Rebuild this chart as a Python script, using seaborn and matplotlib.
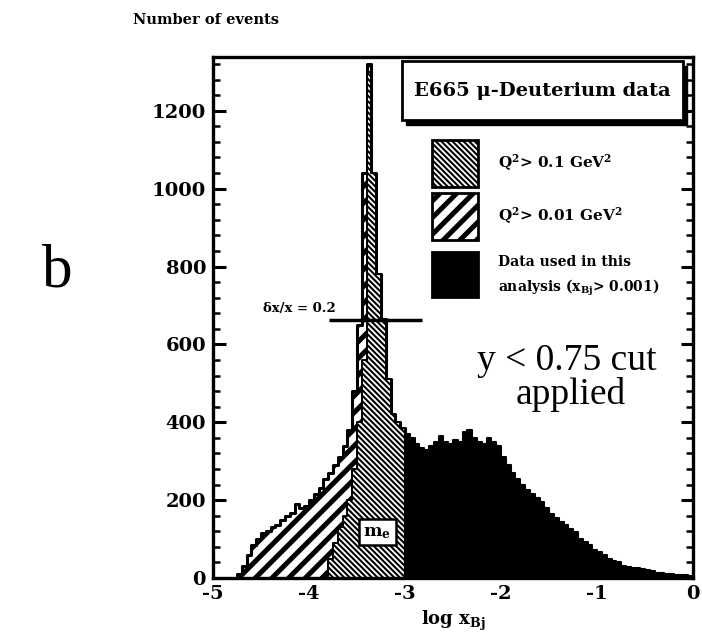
import numpy as np
import pandas as pd
import matplotlib
matplotlib.use("Agg")
import matplotlib.pyplot as plt
from matplotlib.patches import Rectangle
from matplotlib.ticker import MultipleLocator
import seaborn as sns

# ---- histogram contents (bin width 0.05 in log x_Bj) ----
bin_width = 0.05

# Q^2 > 0.01 GeV^2 sample, bins starting at -4.75
q001_start = -4.75
q001_counts = [10, 30, 60, 85, 100, 115, 120, 130, 135, 148,
               160, 168, 190, 180, 185, 200, 215, 230, 255, 270,
               290, 310, 340, 380, 480, 650, 1040, 1320, 1040, 780,
               665, 510, 420, 400, 385]

# Q^2 > 0.1 GeV^2 sample, bins starting at -3.80
q01_start = -3.80
q01_counts = [50, 90, 130, 160, 200, 280, 400, 560, 1300, 1040,
              780, 665, 510, 420, 400, 385]

# data used in the analysis (x_Bj > 0.001), bins starting at -3.00
used_start = -3.00
used_counts = [370, 360, 345, 335, 330, 340, 350, 365, 350, 345,
               355, 350, 375, 380, 360, 350, 345, 360, 350, 340,
               310, 290, 270, 255, 240, 225, 215, 205, 195, 180,
               165, 155, 145, 135, 125, 118, 100, 92, 85, 72,
               66, 58, 48, 44, 40, 32, 29, 27, 25, 22,
               20, 17, 14, 13, 11, 10, 9, 8, 7, 6]

# resolution marker  dx/x = 0.2
res_x = [-3.79, -2.82]
res_y = 662

# m_e label position
me_x, me_y = -3.29, 118

x_ticks = [-5, -4, -3, -2, -1, 0]
x_tick_labels = ["-5", "-4", "-3", "-2", "-1", "0"]
y_ticks = [0, 200, 400, 600, 800, 1000, 1200]

WIDE = "//"
DENSE = "\\\\\\\\\\\\"
WIDE_LW = 3.6
DENSE_LW = 1.5


def frame(start, counts):
    n = len(counts)
    edges = [round(start + bin_width * i, 4) for i in range(n + 1)]
    centers = [e + bin_width / 2 for e in edges[:-1]]
    return pd.DataFrame({"x": centers, "w": counts}), edges


sns.set_theme(style="ticks")
plt.rcParams["font.family"] = ["DejaVu Serif"]
plt.rcParams["font.weight"] = "bold"
plt.rcParams["mathtext.fontset"] = "dejavuserif"
plt.rcParams["mathtext.default"] = "bf"
for key in ["text.color", "axes.labelcolor", "xtick.color", "ytick.color",
            "axes.edgecolor"]:
    plt.rcParams[key] = "black"

fig = plt.figure(figsize=(7.02, 6.38), dpi=100)
ax = fig.add_axes([0.3034, 0.094, 0.684, 0.8166])


def hist(start, counts, hatch, face, hatch_lw, lw):
    df, edges = frame(start, counts)
    with plt.rc_context({"hatch.linewidth": hatch_lw}):
        sns.histplot(data=df, x="x", weights="w", bins=edges,
                     element="step", fill=True, ax=ax,
                     facecolor=face, edgecolor="black",
                     linewidth=lw, hatch=hatch, alpha=1)
        coll = ax.collections[-1]
        if hasattr(coll, "set_hatch_linewidth"):
            coll.set_hatch_linewidth(hatch_lw)


hist(q001_start, q001_counts, WIDE, "white", WIDE_LW, 2.2)
hist(q01_start, q01_counts, DENSE, "white", DENSE_LW, 1.4)
hist(used_start, used_counts, None, "black", 1.0, 1.5)

# resolution bar
ax.plot(res_x, [res_y, res_y], color="black", lw=2.5, solid_capstyle="butt")
ax.text(-4.1, 692, "δx/x = 0.2", ha="center", va="center", fontsize=9.5,
        fontweight="bold")

# m_e label
ax.text(me_x, me_y, "m$_\\mathbf{e}$", ha="center", va="center", fontsize=12.5,
        bbox=dict(boxstyle="square,pad=0.28", facecolor="white",
                  edgecolor="black", linewidth=1.8))

# axes cosmetics
ax.set_xlim(-5, 0)
ax.set_ylim(0, 1338)
ax.set_xticks(x_ticks)
ax.set_xticklabels(x_tick_labels)
ax.set_yticks(y_ticks)
ax.yaxis.set_minor_locator(MultipleLocator(40))
ax.tick_params(axis="y", which="major", direction="in", length=9, width=2.2,
               right=True, labelsize=14, pad=5)
ax.tick_params(axis="y", which="minor", direction="in", length=5, width=1.8,
               right=True)
ax.tick_params(axis="x", which="major", length=0, labelsize=14, pad=5)
for lab in ax.get_xticklabels() + ax.get_yticklabels():
    lab.set_fontweight("bold")
for s in ax.spines.values():
    s.set_linewidth(2.4)
    s.set_color("black")
    s.set_visible(True)
ax.set_xlabel("log x$_{\\mathbf{Bj}}$", fontsize=13, fontweight="bold", labelpad=4)
ax.set_ylabel("")

# title box with drop shadow
tb = (0.393, 0.879, 0.585, 0.113)
sh = 0.009
ax.add_patch(Rectangle((tb[0] + sh, tb[1] - sh), tb[2], tb[3], transform=ax.transAxes,
                       facecolor="black", edgecolor="black", zorder=5, clip_on=False))
ax.add_patch(Rectangle((tb[0], tb[1]), tb[2], tb[3], transform=ax.transAxes,
                       facecolor="white", edgecolor="black", lw=2.0, zorder=6,
                       clip_on=False))
ax.text(tb[0] + tb[2] / 2, tb[1] + tb[3] / 2, "E665 μ-Deuterium data",
        transform=ax.transAxes, ha="center", va="center", fontsize=14,
        fontweight="bold", zorder=7)

# legend swatches
sw_x, sw_w = 0.456, 0.096
swatches = [(0.750, 0.090, DENSE, "white", DENSE_LW),
            (0.649, 0.090, WIDE, "white", WIDE_LW),
            (0.539, 0.086, None, "black", 1.0)]
for y0, h, hatch, face, hlw in swatches:
    with plt.rc_context({"hatch.linewidth": hlw}):
        r = Rectangle((sw_x, y0), sw_w, h, transform=ax.transAxes,
                      facecolor=face, edgecolor="black", lw=2.0, hatch=hatch,
                      zorder=6)
        if hasattr(r, "set_hatch_linewidth"):
            r.set_hatch_linewidth(hlw)
        ax.add_patch(r)

ax.text(0.594, 0.798, "Q$^2$> 0.1 GeV$^2$", transform=ax.transAxes,
        ha="left", va="center", fontsize=11)
ax.text(0.594, 0.695, "Q$^2$> 0.01 GeV$^2$", transform=ax.transAxes,
        ha="left", va="center", fontsize=11)
ax.text(0.594, 0.607, "Data used in this", transform=ax.transAxes,
        ha="left", va="center", fontsize=10)
ax.text(0.594, 0.557, "analysis (x$_{Bj}$> 0.001)", transform=ax.transAxes,
        ha="left", va="center", fontsize=10)

# cut annotation
ax.text(0.737, 0.418, "y < 0.75 cut", transform=ax.transAxes, ha="center",
        va="center", fontsize=27, fontweight="normal",
        family=["Liberation Serif"])
ax.text(0.745, 0.353, "applied", transform=ax.transAxes, ha="center",
        va="center", fontsize=27, fontweight="normal",
        family=["Liberation Serif"])

# figure-level labels
fig.text(0.19, 0.969, "Number of events", ha="left", va="center",
         fontsize=10.5, fontweight="bold")
fig.text(0.082, 0.574, "b", ha="center", va="center", fontsize=44,
         fontweight="normal", family=["Liberation Serif"])

fig.savefig("out.png", dpi=100)
